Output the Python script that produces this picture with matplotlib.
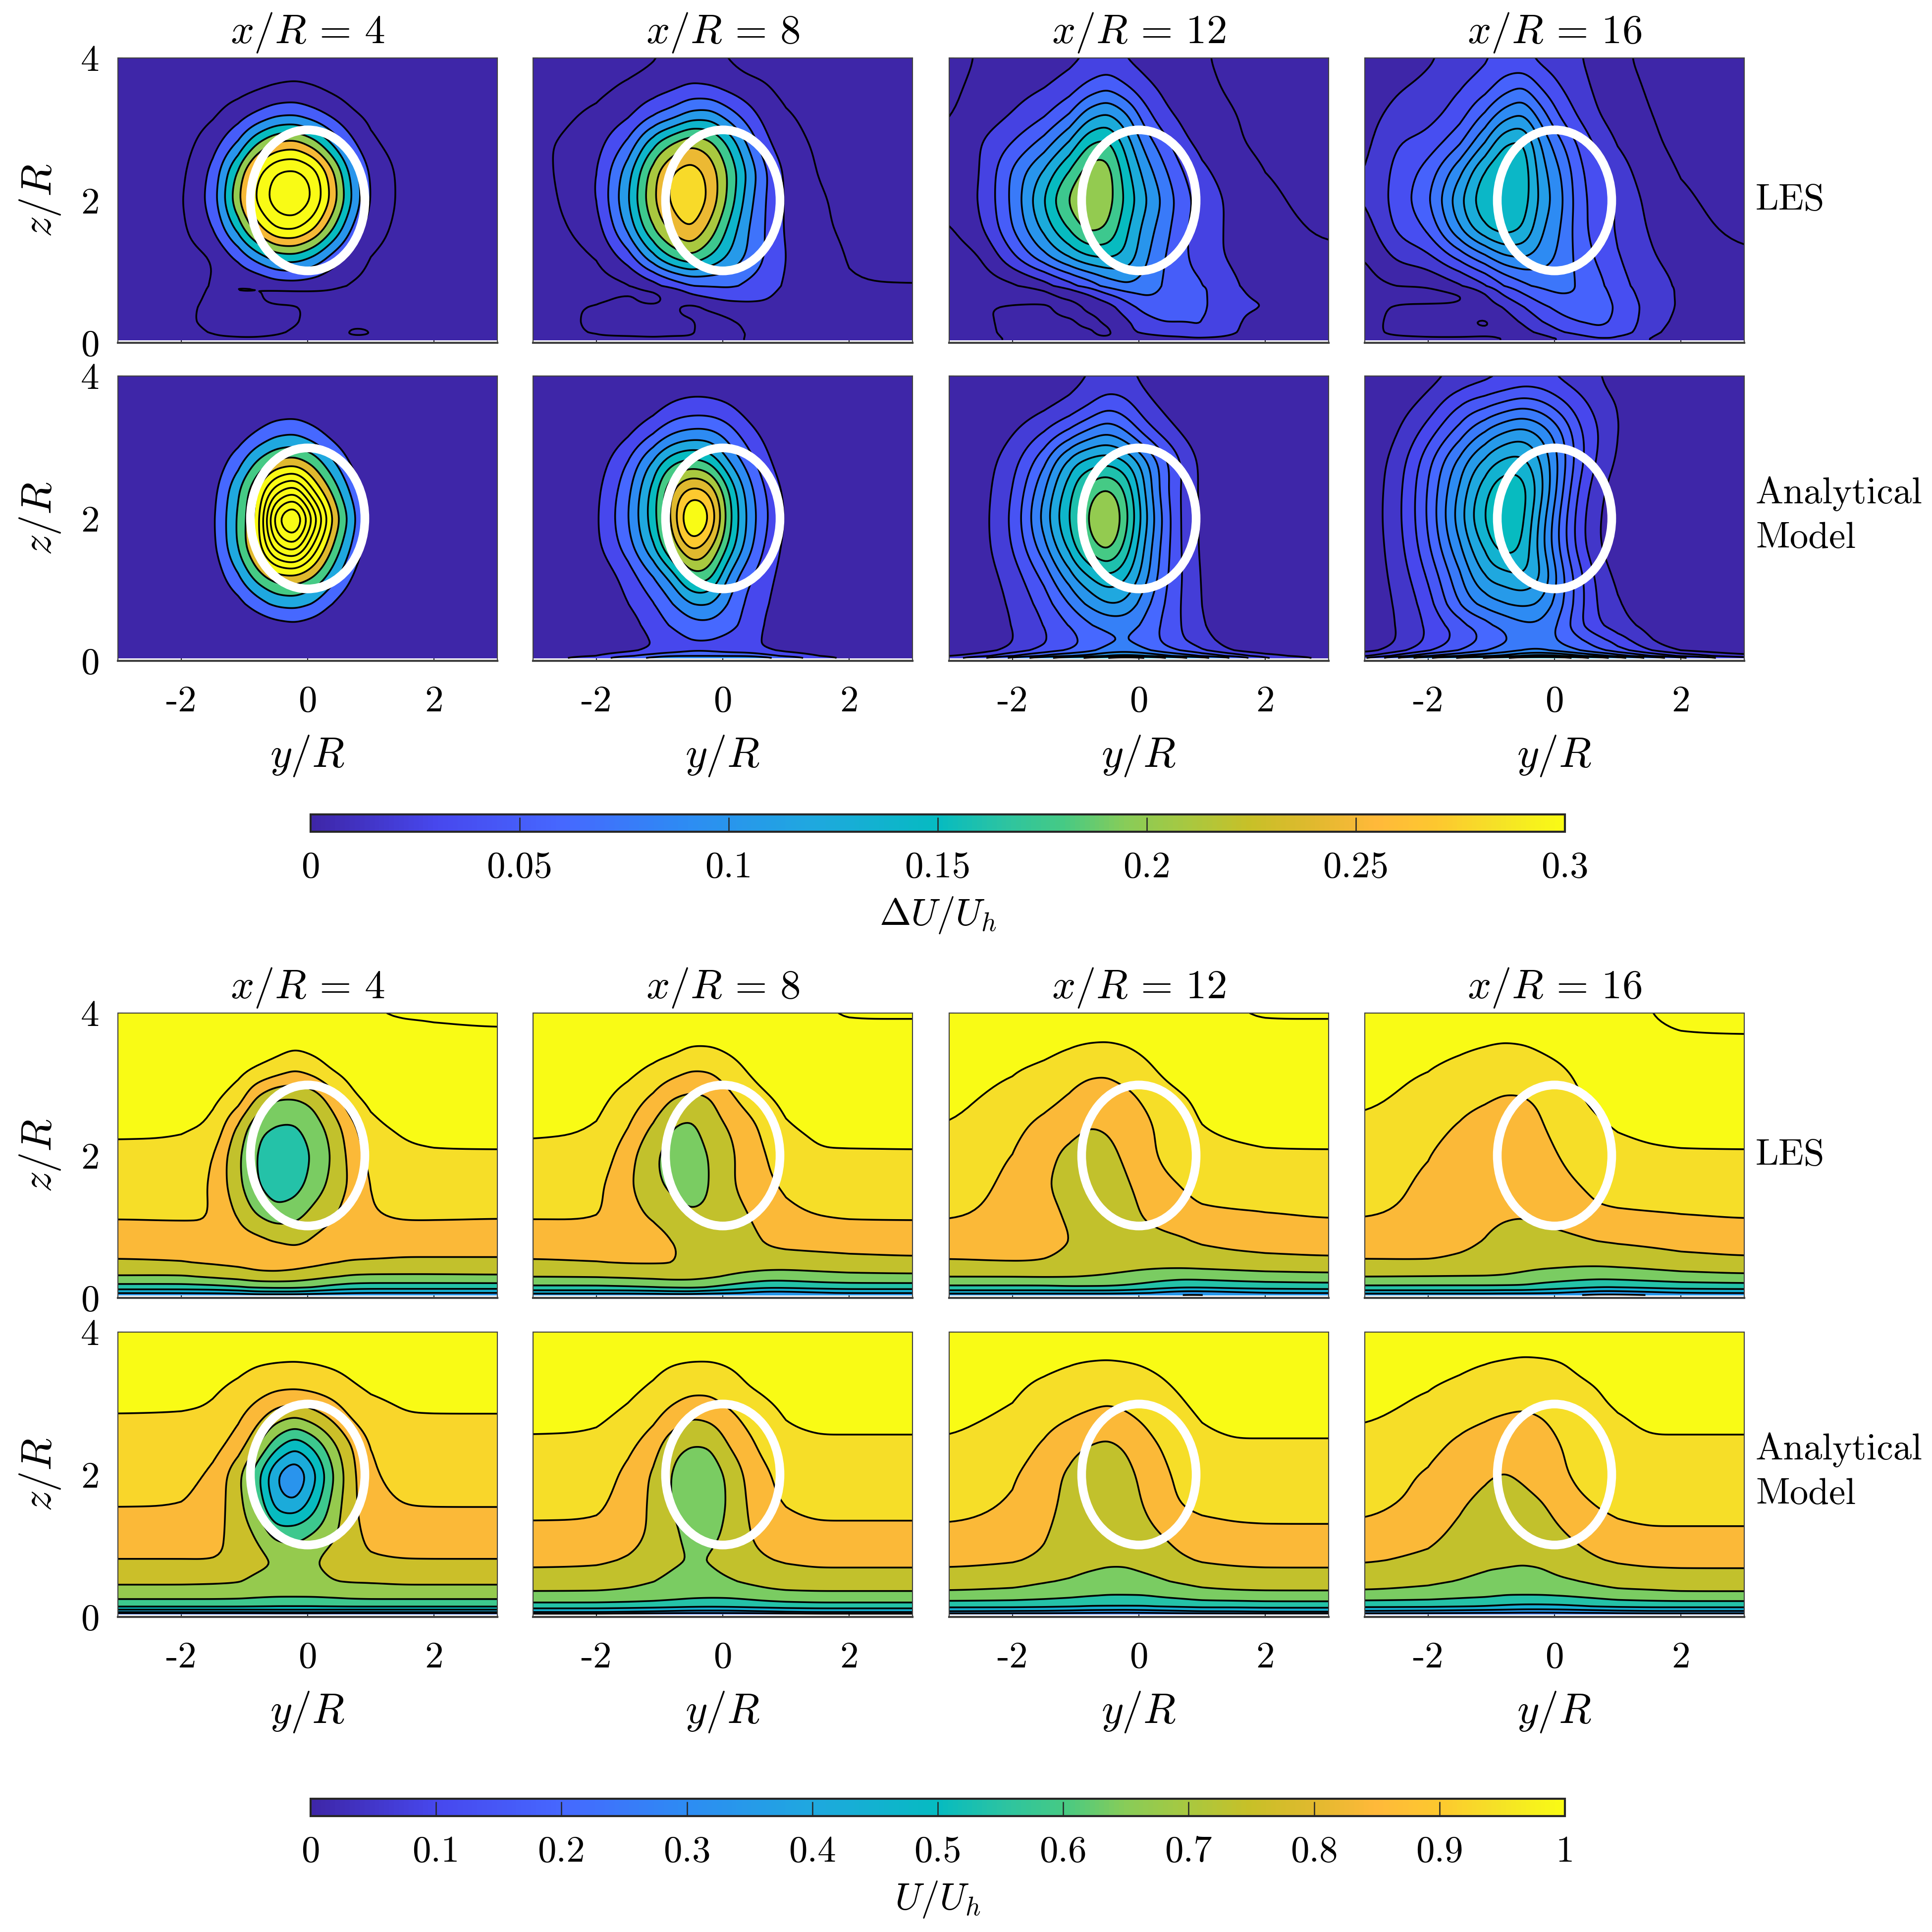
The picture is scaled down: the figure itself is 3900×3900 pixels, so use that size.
import numpy as np
import matplotlib
matplotlib.use('Agg')
import matplotlib.pyplot as plt
from matplotlib.colors import LinearSegmentedColormap, Normalize
from matplotlib.cm import ScalarMappable
from matplotlib.patches import Ellipse

plt.rcParams['mathtext.fontset'] = 'cm'
plt.rcParams['font.family'] = ['cmr10', 'DejaVu Sans']
plt.rcParams['axes.formatter.use_mathtext'] = True

# nodes the values below were read at
yNodes = [-3, -2, -1.5, -1.1, -0.8, -0.5, -0.2, 0.1, 0.4, 0.7, 1, 1.5, 2, 3]
yWide = [-3, -2.5, -2, -1.5, -1.1, -0.8, -0.5, -0.2, 0.1, 0.4, 0.7, 1, 1.5, 2, 3]
zNodes = [4, 3.6, 3.2, 2.8, 2.4, 2, 1.6, 1.2, 0.8, 0.5, 0.3, 0.15, 0.07, 0.04]
zLes = [4, 3.6, 3.2, 2.8, 2.4, 2, 1.6, 1.2, 0.8, 0.65, 0.5, 0.3, 0.15, 0.07, 0.04]

distances = [4, 8, 12, 16]
duTicks = [0, 0.05, 0.1, 0.15, 0.2, 0.25, 0.3]
duTickLabels = ['0', '0.05', '0.1', '0.15', '0.2', '0.25', '0.3']
uTicks = [0, 0.1, 0.2, 0.3, 0.4, 0.5, 0.6, 0.7, 0.8, 0.9, 1]
uTickLabels = ['0', '0.1', '0.2', '0.3', '0.4', '0.5', '0.6', '0.7', '0.8', '0.9', '1']

# contour levels of each panel
duLesLevels = [
    [0, .05, .1, .15, .2, .25, .3, .35, .4],
    [0, .035, .07, .105, .14, .175, .21, .245, .28],
    [0, .025, .05, .075, .1, .125, .15, .175, .2],
    [0, .018, .036, .054, .072, .09, .108, .126, .144],
]
duModelLevels = [
    [.06, .12, .18, .24, .3, .36, .42, .48, .54, .6, .66],
    [.03, .06, .09, .12, .15, .18, .21, .24, .27, .3],
    [.02, .04, .06, .08, .1, .12, .14, .16, .18, .2],
    [.015, .03, .045, .06, .075, .09, .105, .12, .135, .15],
]
uLesLevels = [.1, .2, .3, .4, .5, .6, .7, .8, .9, 1, 1.1]
uModelLevels = [
    [.15, .235, .32, .405, .49, .575, .66, .745, .83, .915, 1],
    [.1, .2, .3, .4, .5, .6, .7, .8, .9, 1],
    [.1, .2, .3, .4, .5, .6, .7, .8, .9, 1],
    [.1, .2, .3, .4, .5, .6, .7, .8, .9, 1],
]

# velocity deficit, LES
duLes4 = [
    [-.02, -.02, -.02, -.02, -.02, -.02, -.02, -.02, -.02, -.02, -.02, -.02, -.02, -.02],
    [-.02, -.02, -.02, -.02, -.012, -.003, .002, -.004, -.015, -.02, -.02, -.02, -.02, -.02],
    [-.02, -.02, -.01, .025, .055, .085, .09, .065, .035, .003, -.01, -.02, -.02, -.02],
    [-.02, -.02, .025, .105, .2, .26, .275, .225, .14, .06, .005, -.02, -.02, -.02],
    [-.02, -.015, .06, .215, .34, .41, .42, .38, .265, .13, .04, -.015, -.02, -.02],
    [-.02, -.01, .07, .25, .37, .43, .45, .4, .285, .15, .045, -.015, -.02, -.02],
    [-.02, -.012, .045, .17, .28, .36, .365, .31, .205, .095, .02, -.015, -.02, -.02],
    [-.02, -.015, -.006, .06, .12, .17, .18, .14, .075, .03, -.005, -.015, -.02, -.02],
    [-.02, -.02, .006, -.006, -.006, .012, .015, .012, .003, -.008, -.012, -.02, -.02, -.02],
    [-.02, -.012, .006, .006, .006, -.015, -.015, -.012, -.008, -.012, -.014, -.018, -.02, -.02],
    [-.02, -.006, .006, .006, .006, .006, .004, -.008, -.01, -.01, -.012, -.018, -.02, -.02],
    [-.02, -.005, .006, .006, .006, .005, .002, -.006, -.008, -.004, -.006, -.015, -.02, -.02],
    [-.02, -.008, .002, .004, .004, .002, -.002, -.006, -.006, .003, .002, -.012, -.02, -.02],
    [-.02, -.01, -.002, -.001, -.001, -.002, -.004, -.006, -.006, -.002, -.003, -.012, -.02, -.02],
    [-.02, -.01, -.002, -.001, -.001, -.002, -.004, -.006, -.006, -.002, -.003, -.012, -.02, -.02],
]
duLes8 = [
    [-.015, -.015, -.015, -.003, .002, .004, .002, -.003, -.015, -.015, -.015, -.015, -.015, -.015],
    [-.02, -.01, .005, .015, .025, .037, .032, .02, .01, .001, -.01, -.015, -.015, -.015],
    [-.02, .008, .025, .065, .085, .115, .12, .085, .05, .018, .003, -.01, -.015, -.02],
    [-.01, .02, .075, .17, .215, .245, .225, .17, .1, .04, .012, -.005, -.015, -.02],
    [-.015, .03, .125, .235, .285, .3, .27, .205, .135, .07, .028, -.003, -.015, -.02],
    [-.02, .03, .14, .245, .29, .315, .275, .2, .12, .065, .03, .005, -.01, -.02],
    [-.02, .015, .115, .215, .26, .285, .235, .165, .105, .065, .03, .005, -.005, -.015],
    [-.02, -.003, .05, .135, .185, .21, .175, .135, .1, .065, .035, .012, -.002, -.01],
    [-.02, -.012, -.012, .012, .035, .055, .065, .072, .06, .05, .03, .01, .001, .002],
    [-.015, -.006, .004, -.012, .012, .03, .04, .05, .045, .04, .02, .008, .002, .002],
    [-.012, .004, .004, .004, .004, -.012, .004, .015, .025, .025, .01, .004, .002, .003],
    [-.01, .004, .005, .005, .005, .004, -.012, -.005, .006, .01, .004, .002, .002, .002],
    [-.008, .002, .004, .004, .004, .003, -.01, -.008, .002, .003, .002, .002, .002, .001],
    [-.005, -.002, -.002, -.001, -.002, -.002, -.004, -.003, .001, .001, .001, .001, .001, .001],
    [-.005, -.002, -.002, -.001, -.002, -.002, -.004, -.003, .001, .001, .001, .001, .001, .001],
]
duLes12 = [
    [-.01, .003, .008, .012, .018, .025, .03, .022, .014, .012, .007, .002, -.006, -.01, -.015],
    [-.005, .006, .015, .022, .035, .055, .068, .05, .03, .018, .012, .005, -.004, -.01, -.015],
    [-.002, .01, .025, .045, .075, .115, .13, .105, .06, .03, .018, .01, .001, -.008, -.012],
    [0, .025, .05, .085, .13, .175, .185, .14, .09, .06, .03, .018, .003, -.006, -.012],
    [.002, .023, .08, .13, .18, .215, .215, .16, .115, .08, .05, .03, .012, 0, -.012],
    [.004, .026, .08, .155, .21, .23, .215, .17, .13, .095, .06, .04, .018, .005, -.01],
    [-.004, .02, .075, .135, .18, .21, .2, .155, .115, .085, .055, .035, .02, .008, -.004],
    [-.012, -.004, .045, .095, .13, .15, .155, .145, .105, .075, .055, .035, .02, .008, .003],
    [-.015, -.012, -.01, .007, .034, .053, .08, .095, .09, .072, .06, .055, .028, .013, .003],
    [-.015, -.012, -.012, -.01, .004, .018, .04, .06, .075, .07, .062, .055, .03, .02, .002],
    [-.015, -.002, .004, .005, -.012, .004, .012, .04, .06, .07, .065, .055, .03, .027, .002],
    [-.012, -.003, .004, .005, .004, -.008, .003, .02, .04, .05, .05, .052, .03, .01, .002],
    [-.01, -.004, .004, .005, .005, .004, -.008, .02, .03, .035, .035, .05, .028, .005, .002],
    [-.01, -.004, .002, .003, .003, .003, .002, .005, .015, .02, .022, .022, .02, .003, .002],
    [-.01, -.004, .002, .003, .003, .003, .002, .005, .015, .02, .022, .022, .02, .003, .002],
]
duLes16 = [
    [.002, .008, .015, .024, .033, .04, .037, .03, .025, .019, .01, .003, -.004, -.006, -.008],
    [.005, .016, .022, .034, .045, .062, .072, .05, .035, .024, .013, .006, -.002, -.005, -.008],
    [.01, .024, .028, .045, .075, .1, .11, .08, .05, .032, .018, .009, 0, -.004, -.007],
    [.012, .036, .042, .068, .11, .145, .15, .105, .075, .05, .03, .017, .002, -.003, -.007],
    [.015, .042, .06, .105, .15, .165, .158, .115, .09, .058, .04, .028, .006, -.001, -.006],
    [.016, .044, .068, .125, .16, .168, .155, .12, .095, .06, .045, .035, .012, .002, -.006],
    [.008, .04, .055, .11, .145, .155, .145, .11, .09, .06, .045, .034, .016, .005, -.004],
    [-.003, .022, .03, .06, .085, .105, .11, .1, .085, .065, .05, .038, .02, .01, .001],
    [-.005, -.002, -.001, .012, .03, .05, .065, .075, .08, .07, .06, .042, .028, .015, .005],
    [-.006, -.005, -.006, -.004, .014, .035, .05, .063, .07, .07, .065, .046, .029, .015, .005],
    [-.005, .002, .003, .003, .008, .018, .035, .05, .06, .068, .068, .05, .03, .015, .006],
    [-.004, .003, .004, .004, -.004, .008, .02, .036, .048, .054, .058, .05, .028, .012, .005],
    [-.004, .003, .004, .004, .002, .002, .012, .022, .035, .042, .05, .048, .024, .008, .004],
    [-.003, -.002, -.001, -.001, -.001, 0, .005, .012, .02, .03, .035, .034, .018, .004, .003],
    [-.003, -.002, -.001, -.001, -.001, 0, .005, .012, .02, .03, .035, .034, .018, .004, .003],
]

# velocity deficit, analytical model
duModel4 = [
    [0, 0, 0, 0, 0, 0, 0, 0, 0, 0, 0, 0, 0, 0],
    [0, 0, 0, 0, .003, .01, .012, .005, 0, 0, 0, 0, 0, 0],
    [0, 0, 0, .02, .06, .1, .11, .075, .03, .003, 0, 0, 0, 0],
    [0, 0, .01, .095, .185, .245, .26, .215, .125, .045, .003, 0, 0, 0],
    [0, 0, .03, .175, .295, .455, .52, .345, .22, .1, .02, 0, 0, 0],
    [0, 0, .04, .195, .31, .68, .78, .54, .3, .15, .02, 0, 0, 0],
    [0, 0, .035, .19, .32, .53, .6, .4, .235, .11, .02, 0, 0, 0],
    [0, 0, .015, .115, .215, .28, .29, .245, .15, .06, .003, 0, 0, 0],
    [0, 0, 0, .035, .085, .13, .14, .11, .05, .012, 0, 0, 0, 0],
    [0, 0, 0, .005, .02, .035, .045, .03, .008, 0, 0, 0, 0, 0],
    [0, 0, 0, 0, .003, .006, .008, .004, 0, 0, 0, 0, 0, 0],
    [0, 0, 0, 0, 0, 0, 0, 0, 0, 0, 0, 0, 0, 0],
    [0, 0, 0, 0, 0, 0, 0, 0, 0, 0, 0, 0, 0, 0],
    [0, 0, 0, 0, 0, 0, 0, 0, 0, 0, 0, 0, 0, 0],
]
duModel8 = [
    [0, 0, 0, .002, .005, .01, .01, .005, .002, 0, 0, 0, 0, 0],
    [0, 0, .003, .012, .03, .036, .034, .028, .01, .002, 0, 0, 0, 0],
    [0, .002, .02, .055, .085, .097, .098, .075, .042, .018, .003, 0, 0, 0],
    [0, .01, .06, .13, .175, .19, .175, .115, .075, .035, .008, 0, 0, 0],
    [0, .018, .08, .165, .245, .285, .27, .18, .105, .055, .022, .002, 0, 0],
    [0, .02, .09, .17, .25, .365, .315, .19, .113, .062, .025, .002, 0, 0],
    [0, .02, .075, .15, .225, .29, .25, .175, .105, .05, .022, .002, 0, 0],
    [0, .005, .04, .09, .13, .205, .2, .11, .065, .038, .018, .001, 0, 0],
    [0, .002, .03, .055, .085, .115, .118, .085, .05, .032, .012, 0, 0, 0],
    [0, .002, .012, .045, .062, .08, .082, .07, .05, .025, .008, 0, 0, 0],
    [0, .002, .012, .032, .048, .06, .06, .052, .04, .025, .008, .002, 0, 0],
    [0, .005, .018, .034, .038, .052, .05, .04, .036, .03, .02, .006, 0, 0],
    [.005, .032, .06, .075, .09, .09, .09, .09, .09, .07, .058, .032, .01, .003],
    [.01, .05, .08, .1, .12, .125, .125, .12, .12, .1, .08, .05, .02, .006],
]
duModel12 = [
    [0, 0, .003, .007, .012, .018, .023, .022, .013, .006, .002, 0, 0, 0, 0],
    [0, .001, .006, .012, .022, .035, .052, .045, .025, .014, .006, .002, 0, 0, 0],
    [0, .004, .017, .04, .065, .085, .1, .08, .05, .03, .016, .006, 0, 0, 0],
    [0, .01, .03, .075, .135, .15, .155, .145, .11, .07, .037, .015, .002, 0, 0],
    [0, .012, .035, .1, .155, .19, .21, .18, .118, .065, .035, .015, .002, 0, 0],
    [0, .012, .04, .113, .165, .205, .235, .19, .127, .075, .033, .017, .002, 0, 0],
    [0, .012, .037, .095, .15, .19, .215, .175, .115, .07, .035, .016, .002, 0, 0],
    [0, .01, .027, .065, .115, .14, .16, .145, .11, .065, .038, .018, .002, 0, 0],
    [0, .007, .022, .047, .08, .103, .12, .118, .085, .06, .036, .02, .002, 0, 0],
    [0, .005, .02, .04, .06, .075, .085, .086, .075, .055, .038, .022, .004, 0, 0],
    [0, .004, .018, .038, .052, .066, .076, .08, .072, .055, .04, .027, .008, 0, 0],
    [.002, .008, .024, .045, .058, .07, .085, .09, .08, .065, .055, .042, .012, .003, 0],
    [.018, .03, .06, .085, .1, .105, .12, .125, .12, .105, .09, .08, .055, .03, .005],
    [.03, .06, .09, .12, .14, .15, .17, .18, .17, .15, .13, .115, .08, .045, .01],
]
duModel16 = [
    [0, .002, .008, .016, .022, .026, .03, .03, .024, .02, .016, .003, 0, 0, 0],
    [0, .008, .018, .047, .055, .063, .07, .064, .05, .035, .024, .016, 0, 0, 0],
    [.002, .012, .037, .068, .094, .108, .115, .103, .08, .048, .03, .016, 0, 0, 0],
    [.004, .019, .055, .098, .127, .14, .142, .12, .085, .05, .026, .013, 0, 0, 0],
    [.004, .022, .06, .11, .147, .165, .16, .125, .08, .04, .019, .006, 0, 0, 0],
    [.004, .023, .06, .117, .155, .175, .155, .113, .07, .035, .015, .005, 0, 0, 0],
    [.004, .021, .056, .105, .14, .16, .15, .108, .07, .035, .015, .004, 0, 0, 0],
    [.003, .019, .045, .088, .125, .13, .138, .125, .082, .05, .024, .011, 0, 0, 0],
    [.002, .016, .035, .08, .097, .104, .108, .102, .08, .05, .027, .018, .002, 0, 0],
    [.002, .015, .032, .052, .067, .078, .086, .087, .07, .045, .03, .02, .01, .002, 0],
    [.002, .014, .032, .05, .063, .072, .08, .08, .073, .063, .05, .04, .014, .002, 0],
    [.006, .02, .04, .058, .072, .08, .088, .09, .08, .072, .06, .05, .028, .01, 0],
    [.025, .05, .075, .09, .1, .105, .12, .125, .12, .105, .095, .085, .06, .045, .016],
    [.04, .08, .11, .13, .145, .155, .17, .175, .17, .15, .135, .12, .09, .07, .03],
]

# mean velocity, LES
uLes4 = [
    [1.09, 1.09, 1.09, 1.09, 1.09, 1.09, 1.09, 1.09, 1.09, 1.095, 1.1, 1.105, 1.105, 1.11],
    [1.08, 1.08, 1.08, 1.075, 1.065, 1.05, 1.035, 1.05, 1.07, 1.08, 1.085, 1.085, 1.09, 1.09],
    [1.06, 1.06, 1.05, 1.03, .998, .96, .91, .95, 1.015, 1.045, 1.06, 1.065, 1.065, 1.065],
    [1.035, 1.035, 1.025, .96, .78, .69, .69, .73, .85, .985, 1.025, 1.04, 1.04, 1.04],
    [1.012, 1.012, .995, .77, .62, .59, .585, .65, .74, .87, .985, 1.015, 1.018, 1.018],
    [.985, .98, .91, .71, .59, .54, .54, .61, .71, .84, .93, .985, .995, .996],
    [.95, .95, .895, .72, .6, .54, .55, .64, .73, .82, .905, .955, .955, .955],
    [.915, .92, .905, .78, .68, .62, .65, .73, .78, .855, .895, .92, .92, .915],
    [.855, .855, .885, .85, .84, .81, .79, .82, .85, .86, .865, .85, .85, .85],
    [.79, .8, .815, .83, .84, .85, .84, .83, .81, .795, .79, .785, .785, .785],
    [.695, .69, .72, .74, .77, .77, .76, .735, .71, .69, .685, .685, .685, .69],
    [.56, .56, .57, .59, .61, .62, .62, .6, .57, .55, .545, .545, .545, .545],
    [.4, .4, .41, .43, .46, .46, .46, .44, .42, .4, .39, .39, .39, .39],
    [.33, .33, .33, .34, .36, .36, .36, .35, .34, .33, .32, .32, .32, .32],
]
uLes8 = [
    [1.09, 1.09, 1.09, 1.09, 1.09, 1.09, 1.09, 1.09, 1.09, 1.09, 1.095, 1.098, 1.105, 1.105],
    [1.08, 1.08, 1.075, 1.06, 1.05, 1.02, 1.02, 1.035, 1.05, 1.07, 1.08, 1.085, 1.085, 1.085],
    [1.06, 1.055, 1.03, .98, .945, .905, .91, .96, 1.01, 1.05, 1.06, 1.065, 1.065, 1.065],
    [1.035, 1.03, .96, .88, .795, .77, .79, .875, .945, .99, 1.025, 1.04, 1.04, 1.04],
    [1.012, 1.005, .905, .78, .695, .675, .75, .805, .86, .935, .995, 1.015, 1.018, 1.018],
    [.985, .975, .84, .71, .66, .645, .705, .775, .85, .9, .96, .995, .995, .996],
    [.95, .93, .815, .72, .675, .65, .7, .78, .85, .885, .915, .94, .95, .955],
    [.915, .915, .84, .775, .735, .705, .715, .75, .8, .85, .885, .91, .92, .92],
    [.855, .86, .86, .85, .805, .77, .76, .76, .77, .81, .83, .84, .845, .85],
    [.79, .8, .81, .81, .81, .775, .765, .76, .76, .76, .755, .76, .77, .78],
    [.705, .71, .72, .73, .74, .735, .72, .695, .67, .65, .65, .665, .675, .68],
    [.58, .58, .59, .6, .61, .62, .6, .57, .54, .52, .52, .54, .55, .55],
    [.43, .43, .43, .44, .45, .45, .43, .41, .38, .36, .36, .38, .4, .4],
    [.33, .33, .33, .34, .35, .35, .33, .32, .31, .3, .3, .31, .32, .32],
]
uLes12 = [
    [1.09, 1.09, 1.09, 1.09, 1.09, 1.09, 1.09, 1.09, 1.09, 1.09, 1.095, 1.1, 1.105, 1.105],
    [1.08, 1.07, 1.05, 1.02, 1.005, 1.0, 1.01, 1.03, 1.05, 1.07, 1.08, 1.085, 1.085, 1.085],
    [1.06, 1.005, .975, .935, .915, .915, .945, .98, 1.02, 1.05, 1.06, 1.065, 1.065, 1.065],
    [1.03, .965, .93, .89, .865, .85, .87, .915, .96, .99, 1.02, 1.04, 1.04, 1.04],
    [1.005, .925, .87, .84, .8, .81, .84, .875, .93, .97, 1.0, 1.015, 1.018, 1.018],
    [.97, .895, .84, .765, .74, .77, .82, .87, .92, .955, .975, .985, .995, .996],
    [.95, .88, .815, .745, .72, .73, .79, .84, .88, .905, .93, .945, .95, .955],
    [.92, .87, .84, .78, .735, .73, .755, .82, .855, .875, .89, .895, .9, .915],
    [.855, .86, .85, .805, .76, .745, .745, .755, .77, .785, .81, .83, .84, .85],
    [.79, .8, .795, .76, .745, .74, .74, .74, .74, .745, .75, .76, .77, .78],
    [.705, .705, .71, .71, .705, .695, .68, .66, .645, .635, .64, .65, .66, .67],
    [.58, .58, .58, .59, .59, .59, .58, .56, .53, .51, .51, .53, .54, .55],
    [.43, .43, .43, .43, .43, .43, .42, .4, .37, .35, .35, .37, .39, .4],
    [.33, .33, .33, .33, .33, .33, .32, .31, .3, .29, .29, .3, .31, .32],
]
uLes16 = [
    [1.09, 1.09, 1.09, 1.09, 1.09, 1.09, 1.09, 1.09, 1.09, 1.09, 1.095, 1.1, 1.11, 1.115],
    [1.08, 1.06, 1.03, 1.01, 1.0, 1.005, 1.02, 1.035, 1.055, 1.075, 1.085, 1.09, 1.095, 1.095],
    [1.04, .998, .965, .945, .935, .945, .97, .99, 1.015, 1.05, 1.065, 1.07, 1.07, 1.07],
    [1.02, .97, .93, .91, .895, .895, .915, .965, .995, 1.02, 1.03, 1.04, 1.04, 1.04],
    [.99, .93, .89, .86, .85, .85, .895, .93, .97, .99, 1.005, 1.015, 1.018, 1.018],
    [.965, .9, .865, .835, .825, .83, .87, .905, .95, .97, .98, .99, .995, .996],
    [.95, .88, .85, .83, .815, .815, .835, .87, .9, .925, .94, .95, .95, .955],
    [.915, .875, .85, .835, .82, .815, .83, .85, .87, .89, .895, .9, .905, .915],
    [.855, .85, .825, .795, .76, .75, .76, .77, .785, .8, .81, .825, .84, .85],
    [.79, .795, .78, .77, .755, .74, .735, .73, .725, .725, .73, .74, .76, .78],
    [.705, .7, .7, .7, .695, .68, .66, .65, .64, .635, .64, .655, .665, .68],
    [.58, .58, .58, .58, .58, .58, .56, .54, .52, .5, .5, .52, .54, .55],
    [.43, .43, .43, .43, .42, .42, .41, .39, .37, .35, .35, .37, .39, .4],
    [.33, .33, .33, .33, .33, .32, .31, .3, .29, .28, .28, .29, .3, .32],
]

# mean velocity, analytical model
uModel4 = [
    [1.06, 1.06, 1.06, 1.06, 1.06, 1.06, 1.06, 1.06, 1.06, 1.06, 1.06, 1.06, 1.06, 1.06],
    [1.04, 1.04, 1.035, 1.025, 1.012, 1.008, 1.005, 1.01, 1.02, 1.03, 1.04, 1.04, 1.04, 1.04],
    [1.02, 1.02, 1.01, .985, .955, .93, .925, .935, .955, .99, 1.01, 1.02, 1.02, 1.02],
    [.997, .995, .99, .93, .86, .78, .745, .79, .85, .925, .965, .995, .997, .997],
    [.972, .972, .95, .875, .76, .6, .5, .59, .72, .83, .92, .97, .972, .972],
    [.945, .94, .905, .765, .595, .39, .31, .45, .65, .81, .905, .945, .945, .945],
    [.922, .92, .88, .78, .64, .44, .4, .53, .69, .81, .885, .92, .922, .922],
    [.88, .88, .86, .795, .73, .61, .62, .66, .72, .81, .85, .875, .88, .88],
    [.83, .83, .835, .815, .78, .75, .71, .745, .785, .81, .825, .83, .83, .83],
    [.76, .76, .755, .75, .72, .7, .695, .71, .745, .75, .75, .76, .76, .76],
    [.695, .695, .695, .69, .68, .675, .675, .675, .68, .69, .695, .695, .695, .695],
    [.59, .59, .59, .59, .585, .58, .58, .58, .585, .59, .59, .59, .59, .59],
    [.42, .42, .42, .42, .425, .43, .43, .43, .425, .42, .42, .42, .42, .42],
    [.24, .24, .24, .24, .24, .25, .25, .25, .24, .24, .24, .24, .24, .24],
]
uModel8 = [
    [1.06, 1.06, 1.06, 1.06, 1.06, 1.06, 1.06, 1.06, 1.06, 1.06, 1.06, 1.06, 1.06, 1.06],
    [1.045, 1.045, 1.04, 1.025, 1.01, 1.005, 1.005, 1.012, 1.025, 1.035, 1.045, 1.045, 1.045, 1.045],
    [1.03, 1.03, 1.02, .99, .955, .93, .925, .965, 1.0, 1.015, 1.025, 1.03, 1.03, 1.03],
    [1.015, 1.015, .985, .925, .855, .8, .82, .87, .93, .975, 1.005, 1.015, 1.015, 1.015],
    [.99, .985, .925, .84, .73, .695, .7, .805, .87, .94, .98, .99, .99, .99],
    [.96, .955, .875, .785, .69, .63, .635, .72, .825, .885, .945, .96, .96, .96],
    [.925, .92, .86, .78, .695, .63, .64, .71, .81, .875, .905, .925, .925, .925],
    [.885, .885, .86, .775, .72, .67, .665, .725, .795, .845, .875, .885, .885, .885],
    [.825, .82, .79, .75, .715, .7, .71, .75, .775, .795, .81, .825, .825, .825],
    [.755, .75, .725, .7, .68, .665, .665, .69, .715, .735, .75, .755, .755, .755],
    [.675, .675, .67, .66, .645, .63, .625, .625, .64, .66, .67, .675, .675, .675],
    [.56, .56, .55, .54, .53, .52, .515, .52, .53, .54, .55, .56, .56, .56],
    [.4, .4, .39, .38, .37, .36, .36, .36, .37, .38, .39, .4, .4, .4],
    [.27, .27, .26, .25, .24, .24, .24, .24, .24, .25, .26, .27, .27, .27],
]
uModel12 = [
    [1.06, 1.06, 1.06, 1.06, 1.06, 1.06, 1.06, 1.06, 1.06, 1.06, 1.06, 1.06, 1.06, 1.06],
    [1.045, 1.04, 1.03, 1.01, 1.003, 1.0, 1.005, 1.01, 1.02, 1.035, 1.04, 1.045, 1.045, 1.045],
    [1.03, 1.015, .975, .955, .935, .925, .935, .97, .99, 1.01, 1.025, 1.03, 1.03, 1.03],
    [1.02, .99, .935, .905, .89, .88, .89, .915, .95, .985, 1.005, 1.015, 1.015, 1.015],
    [.995, .95, .885, .83, .795, .775, .81, .87, .91, .955, .985, .995, .995, .995],
    [.96, .91, .85, .78, .745, .725, .77, .83, .885, .925, .95, .96, .96, .96],
    [.93, .895, .835, .77, .74, .725, .755, .81, .87, .91, .925, .93, .93, .93],
    [.89, .875, .81, .76, .74, .725, .735, .775, .81, .85, .87, .885, .89, .89],
    [.825, .81, .785, .755, .735, .72, .72, .74, .76, .79, .81, .82, .825, .825],
    [.755, .74, .705, .69, .67, .66, .66, .675, .695, .715, .735, .75, .755, .755],
    [.67, .655, .64, .625, .61, .6, .6, .6, .62, .635, .655, .665, .67, .67],
    [.53, .53, .52, .51, .5, .5, .5, .5, .51, .52, .53, .53, .54, .54],
    [.38, .37, .37, .36, .35, .345, .34, .35, .36, .37, .38, .38, .39, .39],
    [.26, .25, .25, .24, .24, .23, .23, .23, .24, .25, .25, .26, .26, .26],
]
uModel16 = [
    [1.06, 1.06, 1.06, 1.06, 1.06, 1.06, 1.06, 1.06, 1.06, 1.06, 1.06, 1.06, 1.06, 1.06],
    [1.05, 1.04, 1.02, 1.005, .998, .99, .993, 1.0, 1.02, 1.03, 1.04, 1.05, 1.05, 1.05],
    [1.035, 1.0, .98, .96, .94, .93, .94, .965, .985, 1.0, 1.02, 1.03, 1.03, 1.03],
    [1.01, .975, .93, .905, .895, .89, .9, .93, .96, .985, .995, 1.015, 1.015, 1.015],
    [.985, .93, .875, .86, .845, .84, .855, .9, .93, .955, .975, .99, .99, .99],
    [.96, .885, .84, .81, .795, .815, .85, .885, .925, .945, .955, .96, .96, .96],
    [.93, .875, .81, .78, .755, .77, .795, .84, .885, .91, .92, .93, .93, .93],
    [.885, .83, .78, .745, .73, .725, .76, .795, .83, .865, .885, .895, .895, .895],
    [.81, .78, .75, .72, .715, .71, .715, .74, .77, .795, .81, .825, .825, .825],
    [.755, .72, .695, .68, .675, .67, .675, .69, .7, .725, .745, .75, .76, .76],
    [.665, .65, .63, .62, .6, .6, .6, .605, .62, .635, .655, .665, .675, .675],
    [.525, .52, .51, .5, .49, .48, .48, .485, .495, .51, .52, .53, .53, .53],
    [.37, .36, .35, .345, .34, .33, .33, .335, .345, .35, .36, .37, .37, .37],
    [.26, .25, .25, .24, .24, .23, .23, .23, .24, .24, .25, .26, .26, .26],
]

# the colour map, sampled off the colour bars
parula = LinearSegmentedColormap.from_list('parula', [
    (0, '#3e26a8'), (.1, '#4748ee'), (.2, '#4668ff'), (.3, '#2d8cf3'), (.4, '#1fa8df'),
    (.5, '#06bbc1'), (.55, '#2ac3a3'), (.6, '#45ca85'), (.65, '#88cc58'), (.7, '#a8c840'),
    (.75, '#c8c028'), (.8, '#e0b92e'), (.85, '#ffb93a'), (.9, '#fdc82f'), (.95, '#f5e326'),
    (1, '#f9fb15')], N=256)


def px(x, y):
    return x / 3900, 1 - y / 3900


def makeAxes(left, top, right, bottom):
    x0, y0 = px(left, bottom)
    x1, y1 = px(right, top)
    return fig.add_axes([x0, y0, x1 - x0, y1 - y0])


# the panels were read on a coarse mesh, refine it so the contours are not faceted
def refine(values, width, n=10):
    data = np.array(values, dtype=float)[::-1]
    rows, cols = data.shape
    ys = yWide if cols == len(yWide) else yNodes
    zs = zLes if rows == len(zLes) else zNodes
    iz = np.linspace(0, rows - 1, (rows - 1) * n + 1)
    iy = np.linspace(0, cols - 1, (cols - 1) * n + 1)
    fine = np.array([np.interp(iy, np.arange(cols), r) for r in data])
    fine = np.array([np.interp(iz, np.arange(rows), c) for c in fine.T]).T
    kernel = np.ones(width) / width
    for i in range(2):
        fine = np.pad(fine, width // 2, mode='edge')
        fine = np.array([np.convolve(r, kernel, mode='valid') for r in fine])
        fine = np.array([np.convolve(c, kernel, mode='valid') for c in fine.T]).T
    yFine = np.interp(iy, np.arange(cols), ys)
    zFine = np.interp(iz, np.arange(rows), zs[::-1])
    return yFine, zFine, fine


def drawPanel(ax, values, levels, top, shift, width):
    y, z, field = refine(values, width)
    cols = [parula(float(min(max(l / top + shift, 0), 1))) for l in levels]
    ax.contourf(y, z, field, levels=levels, colors=[parula(0.0)] + cols, extend='both')
    ax.contour(y, z, field, levels=levels, colors='k', linewidths=0.85)
    ax.add_patch(Ellipse((0, 2), 1.81, 1.98, fill=False, ec='white', lw=4.2, zorder=5))
    ax.set_xlim(-3, 3)
    ax.set_ylim(0, 4)
    ax.set_xticks([-2, 0, 2])
    ax.set_yticks([0, 2, 4])
    ax.set_axisbelow(True)
    ax.tick_params(direction='in', length=2.5, width=0.5, color='#262626', labelsize=TICK_SIZE,
                   labelbottom=False, labelleft=False, pad=12)
    for side in ax.spines:
        ax.spines[side].set_linewidth(0.5)
        ax.spines[side].set_color('#404040')
        ax.spines[side].set_zorder(6)
    ax.spines['bottom'].set_linewidth(1.0)


def drawBlock(topRow, bottomRow, levelsTop, levelsBottom, vmax, rowTops, shiftsTop, shiftsBottom, widthsBottom):
    for col, left in enumerate(COL_LEFT):
        for row, rowTop in enumerate(rowTops):
            ax = makeAxes(left, rowTop, left + 766, rowTop + 575)
            values = topRow[col] if row == 0 else bottomRow[col]
            levels = levelsTop[col] if row == 0 else levelsBottom[col]
            shift = shiftsTop[col] if row == 0 else shiftsBottom[col]
            width = 7 if row == 0 else widthsBottom[col]
            drawPanel(ax, values, levels, vmax, shift, width)
            if row == 0:
                ax.set_title(r'$x/R\,=\,%d$' % distances[col], fontsize=TITLE_SIZE, pad=7.2)
            else:
                ax.set_xticks([-2, 0, 2], ['-2', '0', '2'])
                ax.tick_params(labelbottom=True)
                ax.set_xlabel(r'$y/R$', fontsize=LABEL_SIZE, labelpad=7)
            if col == 0:
                ax.set_yticks([0, 2, 4], ['0', '2', '4'])
                ax.tick_params(labelleft=True, axis='y', pad=9)
                ax.set_ylabel(r'$z/R$', fontsize=LABEL_SIZE, labelpad=9)
                for label in ax.get_yticklabels():
                    label.set_va('center_baseline')
    x, y = px(3544, rowTops[0] + 288)
    fig.text(x, y, 'LES', fontsize=TICK_SIZE, va='center')
    x, y = px(3544, rowTops[1] + 238)
    fig.text(x, y, 'Analytical', fontsize=TICK_SIZE, va='center')
    x, y = px(3544, rowTops[1] + 328)
    fig.text(x, y, 'Model', fontsize=TICK_SIZE, va='center')


def drawBar(top, vmax, ticks, tickLabels, label):
    cax = makeAxes(627, top, 3159, top + 35)
    cb = fig.colorbar(ScalarMappable(Normalize(0, vmax), parula), cax=cax, orientation='horizontal')
    cb.set_ticks(ticks, labels=tickLabels)
    cb.outline.set_linewidth(1.0)
    cb.outline.set_edgecolor('#262626')
    cax.tick_params(direction='in', length=7, width=0.6, color='#262626', labelsize=TICK_SIZE, pad=9.5)
    cb.set_label(label, fontsize=BAR_LABEL_SIZE, labelpad=5)


TICK_SIZE = 18
TITLE_SIZE = 20
LABEL_SIZE = 20.5
BAR_LABEL_SIZE = 18.3
COL_LEFT = [238, 1076, 1916, 2755]

fig = plt.figure(figsize=(13, 13), dpi=300)
drawBlock([duLes4, duLes8, duLes12, duLes16], [duModel4, duModel8, duModel12, duModel16],
          duLesLevels, duModelLevels, 0.3, [117, 759], [0, 0, 0, 0], [0, 0, 0, 0], [7, 9, 9, 9])
drawBar(1644, 0.3, duTicks, duTickLabels, r'$\Delta U/U_h$')
drawBlock([uLes4, uLes8, uLes12, uLes16], [uModel4, uModel8, uModel12, uModel16],
          [uLesLevels] * 4, uModelLevels, 1.0, [2045, 2689], [.04, .04, .04, .04], [.01, .04, .04, .04], [7, 7, 7, 7])
drawBar(3631, 1.0, uTicks, uTickLabels, r'$U/U_h$')

fig.savefig('out.png', dpi=300)
